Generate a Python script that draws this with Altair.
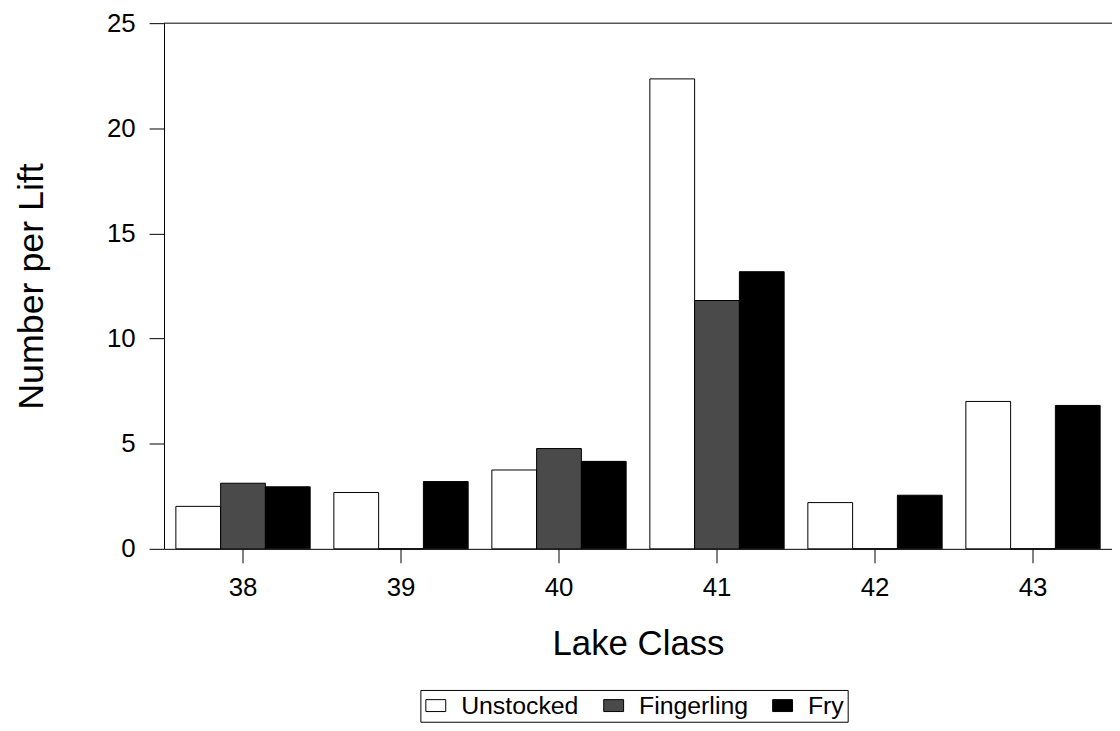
import altair as alt
import pandas as pd

lake_class = ["38", "39", "40", "41", "42", "43"]
stock_types = ["Unstocked", "Fingerling", "Fry"]
unstocked = [2.02, 2.68, 3.75, 22.35, 2.2, 7.01]
fingerling = [3.12, 0.0, 4.77, 11.81, 0.0, 0.0]
fry = [2.95, 3.2, 4.16, 13.18, 2.55, 6.82]
colors = ["#ffffff", "#4a4a4a", "#000000"]
y_ticks = [0, 5, 10, 15, 20, 25]

rows = []
for i, lc in enumerate(lake_class):
    for st, vals in zip(stock_types, [unstocked, fingerling, fry]):
        rows.append({"Lake Class": lc, "Stock": st, "Value": vals[i]})
df = pd.DataFrame(rows)

FONT = "Liberation Sans"

bars = alt.Chart(df).mark_bar(stroke="black", strokeWidth=1).encode(
    x=alt.X(
        "Lake Class:N",
        sort=lake_class,
        scale=alt.Scale(paddingInner=0.15, paddingOuter=0.075),
        axis=alt.Axis(
            title="Lake Class",
            labelAngle=0,
            labelFontSize=26,
            labelFont=FONT,
            labelColor="black",
            labelPadding=12,
            tickSize=14,
            tickColor="black",
            domainColor="black",
            titleFontSize=35,
            titleFont=FONT,
            titleFontWeight="normal",
            titleColor="black",
            titlePadding=26,
        ),
    ),
    xOffset=alt.XOffset("Stock:N", sort=stock_types, scale=alt.Scale(paddingInner=0, paddingOuter=0)),
    y=alt.Y(
        "Value:Q",
        scale=alt.Scale(domain=[0, 25], nice=False),
        axis=alt.Axis(
            title="Number per Lift",
            values=y_ticks,
            grid=False,
            labelFontSize=26,
            labelFont=FONT,
            labelColor="black",
            labelPadding=14,
            tickSize=15,
            tickColor="black",
            domainColor="black",
            titleFontSize=36,
            titleFont=FONT,
            titleFontWeight="normal",
            titleColor="black",
            titlePadding=56,
        ),
    ),
    fill=alt.Fill(
        "Stock:N",
        sort=stock_types,
        scale=alt.Scale(domain=stock_types, range=colors),
        legend=alt.Legend(
            title=None,
            orient="none",
            direction="horizontal",
            legendX=258,
            legendY=671,
            strokeColor="black",
            fillColor="white",
            padding=3,
            labelFontSize=25,
            labelFont=FONT,
            labelColor="black",
            labelOffset=13,
            columnPadding=22,
            symbolType="M-1,-0.6L1,-0.6L1,0.6L-1,0.6Z",
            symbolSize=400,
            symbolStrokeColor="black",
            symbolStrokeWidth=1,
        ),
    ),
)

top_line = alt.Chart(pd.DataFrame({"top": [25]})).mark_rule(color="black", strokeWidth=1).encode(
    y=alt.Y("top:Q", title="Number per Lift")
)

chart = alt.layer(bars, top_line).properties(
    width=954,
    height=529,
    autosize=alt.AutoSizeParams(type="none"),
    padding={"left": 157, "top": 13, "right": 0, "bottom": 173},
    background="white",
).configure_view(stroke=None)

chart.save("out.html", embed_options={"renderer": "svg", "actions": False})
